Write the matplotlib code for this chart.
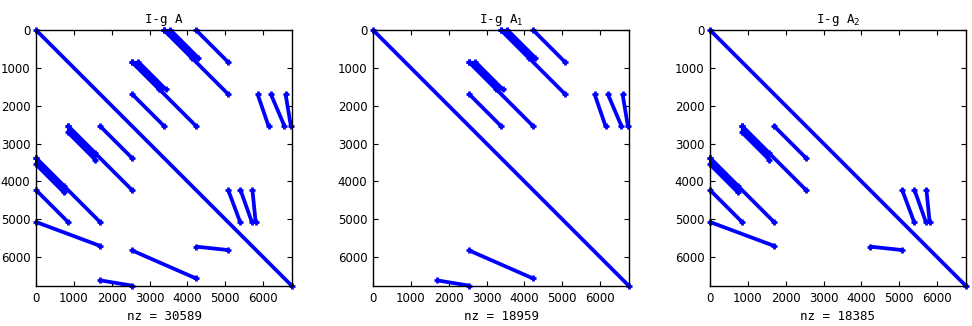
import numpy as np
import matplotlib.pyplot as plt

N = 6760
ticks = [0, 1000, 2000, 3000, 4000, 5000, 6000]

titles = ['I-g A', 'I-g A$_1$', 'I-g A$_2$']
nz = [30589, 18959, 18385]

# segments of nonzeros: (row0, col0, row1, col1)
upper_lines = [(0, 3380, 1690, 5070), (0, 4225, 845, 5070),
               (845, 2535, 2535, 4225), (1690, 2535, 2535, 3380)]
# bands of parallel diagonals: (row0, row1, first offset, last offset)
upper_bands = [(0, 735, 3380, 3550), (845, 1570, 1690, 1860)]
upper_steep = [(1690, 5850, 2535, 6140), (1690, 6200, 2535, 6560),
               (1690, 6590, 2535, 6730)]
lower_steep = [(4225, 5075, 5070, 5390), (4225, 5400, 5070, 5700),
               (4225, 5715, 5070, 5800)]
shallow_1 = [(5820, 2535, 6560, 4225), (6610, 1690, 6750, 2535)]
shallow_2 = [(5070, 0, 5700, 1690), (5720, 4225, 5810, 5070)]

# lower-left part is the transpose of the upper-right part
lower_lines = [(c0, r0, c1, r1) for r0, c0, r1, c1 in upper_lines]

BLUE = (0, 0, 1)


def draw_seg(ax, seg, lw=2.7, ends=True):
    r0, c0, r1, c1 = seg
    ax.plot([c0, c1], [r0, r1], color=BLUE, lw=lw, clip_on=False,
            solid_capstyle='butt')
    if ends:
        ax.plot([c0, c1], [r0, r1], ls='none', marker='+', ms=5, mew=2,
                color=BLUE, clip_on=False)


def draw_band(ax, band, transpose=False):
    r0, r1, lo, hi = band
    offs = np.linspace(lo, hi, 8)
    for k, off in enumerate(offs):
        seg = (r0, r0 + off, r1, r1 + off)
        if transpose:
            seg = (r0 + off, r0, r1 + off, r1)
        draw_seg(ax, seg, ends=(k in (0, len(offs) - 1)))


fig = plt.figure(figsize=(9.72, 3.26), dpi=100)
lefts = [36, 373, 710]
for i in range(3):
    ax = fig.add_axes([lefts[i] / 972, 40 / 326, 256 / 972, 256 / 326])
    draw_seg(ax, (0, 0, N, N))
    if i in (0, 1):
        for s in upper_lines + upper_steep + shallow_1:
            draw_seg(ax, s)
        for b in upper_bands:
            draw_band(ax, b)
    if i in (0, 2):
        for s in lower_lines + lower_steep + shallow_2:
            draw_seg(ax, s)
        for b in upper_bands:
            draw_band(ax, b, transpose=True)
    ax.set_xlim(0, N)
    ax.set_ylim(N, 0)
    ax.set_xticks(ticks)
    ax.set_yticks(ticks)
    ax.tick_params(direction='in', top=True, right=True, length=3.5,
                   labelsize=8.5, pad=4)
    for sp in ax.spines.values():
        sp.set_linewidth(1.0)
    ax.set_title(titles[i], fontsize=9, family='DejaVu Sans Mono', pad=5)
    ax.set_xlabel('nz = %d' % nz[i], fontsize=9, family='DejaVu Sans Mono',
                  labelpad=4)

fig.savefig('out.png', dpi=100)
